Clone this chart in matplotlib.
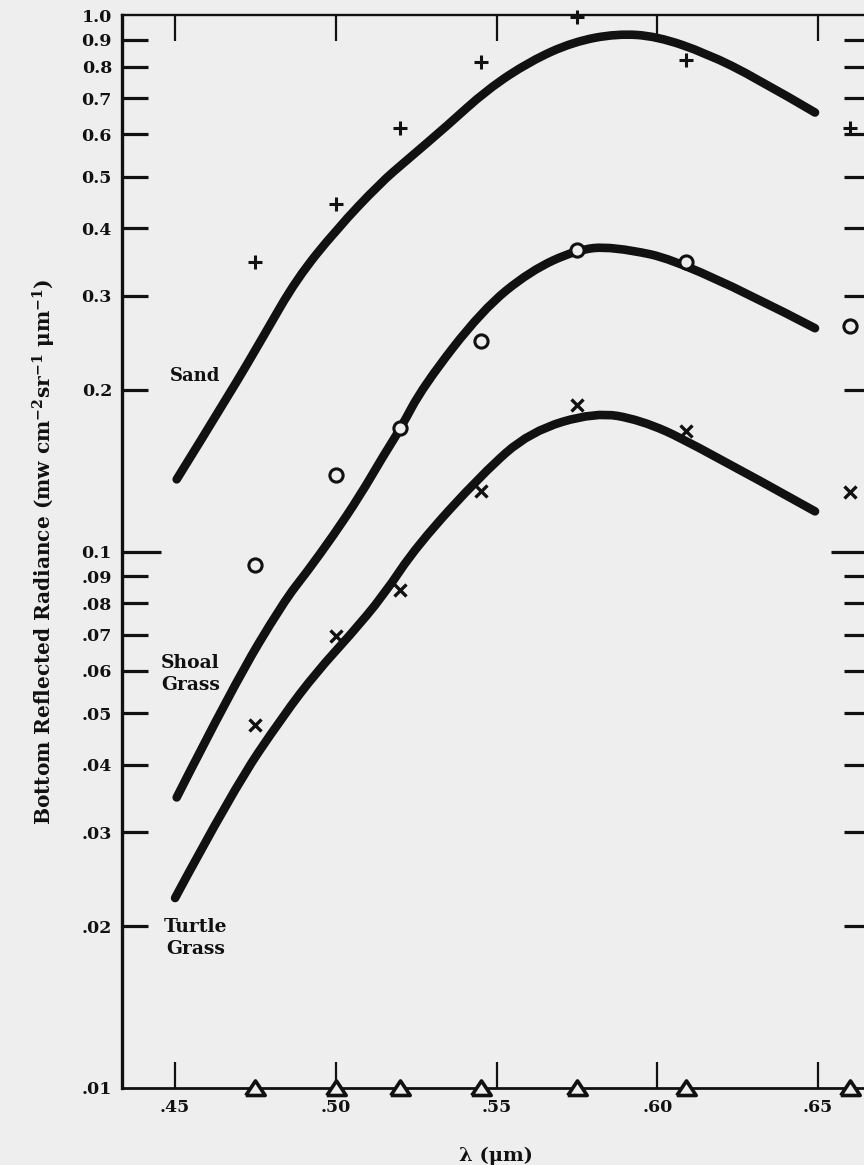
import matplotlib
matplotlib.use('Agg')
import matplotlib.pyplot as plt
from matplotlib.path import Path
from matplotlib.patches import PathPatch
from matplotlib.ticker import FixedLocator, NullLocator

plt.rcParams['font.family'] = 'DejaVu Serif'
plt.rcParams['font.weight'] = 'bold'
plt.rcParams['mathtext.fontset'] = 'dejavuserif'
plt.rcParams['mathtext.default'] = 'bf'

# band centres (um) where the measurements were taken
bands = [0.475, 0.500, 0.520, 0.545, 0.575, 0.609, 0.660]
sand_pts = [0.347, 0.445, 0.616, 0.818, 0.99, 0.823, 0.617]
shoal_pts = [0.0943, 0.139, 0.1696, 0.2467, 0.3648, 0.3457, 0.263]
turtle_pts = [0.0475, 0.0697, 0.0849, 0.1298, 0.1875, 0.1677, 0.129]
floor_pts = [0.01, 0.01, 0.01, 0.01, 0.01, 0.01, 0.01]

# hand drawn curves
sand_wl = [0.4505, 0.4671, 0.4775, 0.4878, 0.5003, 0.5137, 0.5220, 0.5345,
           0.5469, 0.5604, 0.5738, 0.5873, 0.5998, 0.6153, 0.6309, 0.6490]
sand_fit = [0.1363, 0.1973, 0.252, 0.3224, 0.399, 0.4855, 0.5358, 0.621,
            0.725, 0.820, 0.891, 0.923, 0.913, 0.848, 0.762, 0.658]
shoal_wl = [0.4505, 0.4681, 0.4837, 0.4910, 0.4992, 0.5075, 0.5148, 0.5200,
            0.5272, 0.5455, 0.5604, 0.5746, 0.5858, 0.6098, 0.6490]
shoal_fit = [0.0348, 0.0562, 0.0805, 0.0916, 0.1071, 0.1271, 0.1509, 0.1691,
             0.2035, 0.2818, 0.3332, 0.3648, 0.3708, 0.3457, 0.2607]
turtle_wl = [0.4500, 0.4681, 0.4837, 0.4941, 0.5044, 0.5148, 0.5252,
             0.5455, 0.5604, 0.5806, 0.5946, 0.6107, 0.6490]
turtle_fit = [0.0226, 0.0360, 0.0495, 0.0597, 0.0698, 0.0828, 0.1026,
              0.1395, 0.1674, 0.1819, 0.1760, 0.1595, 0.1188]

xticks = [0.45, 0.50, 0.55, 0.60, 0.65]
xlabels = ['.45', '.50', '.55', '.60', '.65']
yticks = [1.0, 0.9, 0.8, 0.7, 0.6, 0.5, 0.4, 0.3, 0.2, 0.1,
          0.09, 0.08, 0.07, 0.06, 0.05, 0.04, 0.03, 0.02, 0.01]
ylabels = ['1.0', '0.9', '0.8', '0.7', '0.6', '0.5', '0.4', '0.3', '0.2', '0.1',
           '.09', '.08', '.07', '.06', '.05', '.04', '.03', '.02', '.01']

bg = '#eeeeee'
ink = '#111111'


def smooth_path(xs, ys):
    # quadratic bezier through the midpoints, the read points act as control points
    verts = [(xs[0], ys[0])]
    codes = [Path.MOVETO]
    for i in range(1, len(xs) - 1):
        mx = (xs[i] + xs[i + 1]) / 2
        my = (ys[i] * ys[i + 1]) ** 0.5   # midpoint on the log axis
        if i == len(xs) - 2:
            mx, my = xs[i + 1], ys[i + 1]
        verts += [(xs[i], ys[i]), (mx, my)]
        codes += [Path.CURVE3, Path.CURVE3]
    return Path(verts, codes)


fig = plt.figure(figsize=(8.64, 11.65), dpi=100, facecolor=bg)
ax = fig.add_axes([121.7/864, 77/1165, (870-121.7)/864, (1088-15)/1165])
ax.set_facecolor(bg)
ax.set_yscale('log')
ax.set_xlim(0.4334, 0.6661)
ax.set_ylim(0.01, 1.0)

for wl, v in [(sand_wl, sand_fit), (shoal_wl, shoal_fit), (turtle_wl, turtle_fit)]:
    ax.add_patch(PathPatch(smooth_path(wl, v), fill=False, edgecolor=ink, lw=6.2,
                           capstyle='round', joinstyle='round', zorder=3))

ax.plot(bands, sand_pts, ls='none', marker='+', ms=10, mew=2.2, color=ink, zorder=4, clip_on=False)
ax.plot(bands, shoal_pts, ls='none', marker='o', ms=9.5, mew=2.2, mec=ink, mfc=bg, zorder=4)
ax.plot(bands, turtle_pts, ls='none', marker='x', ms=8, mew=2.4, color=ink, zorder=4)
tri = [(-1, -0.72), (1, -0.72), (0, 0.78), (-1, -0.72)]
ax.plot(bands, floor_pts, ls='none', marker=tri, ms=14, mew=2.6, mec=ink, mfc=bg,
        zorder=5, clip_on=False)

ax.xaxis.set_major_locator(FixedLocator(xticks))
ax.set_xticklabels(xlabels)
ax.yaxis.set_major_locator(FixedLocator(yticks))
ax.yaxis.set_minor_locator(NullLocator())
ax.xaxis.set_minor_locator(NullLocator())
ax.set_yticklabels(ylabels)

ax.tick_params(axis='y', which='major', direction='in', length=19, width=2.3,
               left=True, right=True, labelsize=12.5, pad=7, colors=ink)
ax.tick_params(axis='x', which='major', direction='in', length=19, width=1.6,
               top=True, bottom=True, labelsize=12.5, pad=8, colors=ink)
# the 0.1 tick is drawn longer than the others
for t in ax.yaxis.get_major_ticks():
    if abs(t.get_loc() - 0.1) < 1e-9:
        t.tick1line.set_markersize(28)
        t.tick2line.set_markersize(28)
    if abs(t.get_loc() - 1.0) < 1e-9 or abs(t.get_loc() - 0.01) < 1e-9:
        t.tick1line.set_visible(False)
        t.tick2line.set_visible(False)

ax.spines['left'].set_linewidth(2.4)
ax.spines['bottom'].set_linewidth(2.0)
ax.spines['top'].set_linewidth(1.7)
ax.spines['right'].set_linewidth(2.0)
for s in ax.spines.values():
    s.set_color(ink)

ax.set_ylabel('Bottom Reflected Radiance (mw cm$^{-2}$sr$^{-1}$ μm$^{-1}$)',
              fontsize=14.5, fontweight='bold', color=ink, labelpad=17)
ax.set_xlabel('λ (μm)', fontsize=14, fontweight='bold', color=ink, labelpad=22)

ax.text(0.4485, 0.212, 'Sand', fontsize=13, fontweight='bold', color=ink, va='center')
ax.text(0.4547, 0.0592, 'Shoal\nGrass', fontsize=13.5, fontweight='bold', color=ink,
        ha='center', va='center', multialignment='center', linespacing=1.3)
ax.text(0.4565, 0.01905, 'Turtle\nGrass', fontsize=13.5, fontweight='bold', color=ink,
        ha='center', va='center', multialignment='center', linespacing=1.3)

fig.savefig('out.png', dpi=100, facecolor=bg)
